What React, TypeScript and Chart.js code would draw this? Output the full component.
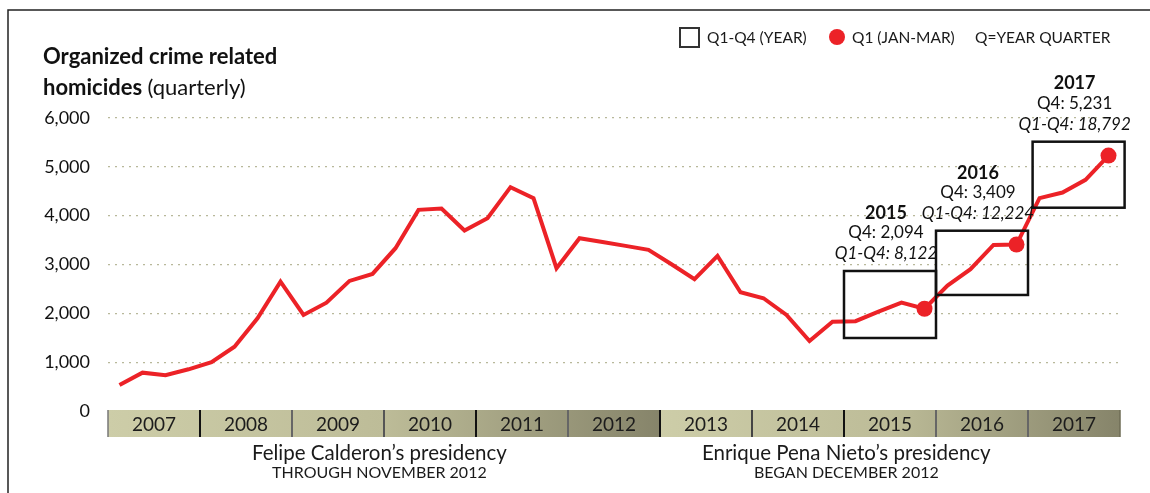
import React, { useEffect, useRef } from "react";
import { Chart, registerables } from "chart.js";

Chart.register(...registerables);

const years = ["2007", "2008", "2009", "2010", "2011", "2012", "2013", "2014", "2015", "2016", "2017"];
const quarterNames = ["Q1", "Q2", "Q3", "Q4"];
const homicides = [
  533, 785, 731, 854,
  998, 1318, 1900, 2650,
  1967, 2219, 2664, 2807,
  3334, 4119, 4146, 3695,
  3949, 4584, 4359, 2924,
  3539, 3459, 3381, 3299,
  3006, 2698, 3176, 2432,
  2309, 1967, 1434, 1830,
  1840, 2035, 2220, 2094,
  2568, 2903, 3400, 3409,
  4359, 4473, 4734, 5231,
];
const markerIndices = [35, 39, 43];
const yTicks = [0, 1000, 2000, 3000, 4000, 5000, 6000];

const boxYears = ["2015", "2016", "2017"];
const boxQ4Labels = ["Q4: 2,094", "Q4: 3,409", "Q4: 5,231"];
const boxTotalLabels = ["Q1-Q4: 8,122", "Q1-Q4: 12,224", "Q1-Q4: 18,792"];
const boxStartQuarter = [32, 36, 40.2];
const boxLow = [1495, 2376, 4163];
const boxHigh = [2867, 3692, 5515];

const dividerColors = ["#777", "#111", "#666", "#555", "#111", "#666", "#111", "#444", "#111", "#666", "#666"];

const RED = "#ec2227";
const FONT = "Lato, 'Open Sans', sans-serif";

const labels = years.flatMap((y) => quarterNames.map((q) => `${q} ${y}`));

const decorPlugin = {
  id: "decor",
  beforeDatasetsDraw(chart: any) {
    const { ctx, chartArea, scales } = chart;
    const x = scales.x;
    const w = x.getPixelForValue(1) - x.getPixelForValue(0);
    const qLeft = (q: number) => x.getPixelForValue(0) - w / 2 + q * w;
    const bandTop = chartArea.bottom - 1;
    const bandH = 27;
    ctx.save();
    const segs = [
      [0, 24],
      [24, 44],
    ];
    segs.forEach(([a, b]) => {
      const x0 = qLeft(a);
      const x1 = qLeft(b);
      const g = ctx.createLinearGradient(x0, 0, x1, 0);
      g.addColorStop(0, "#cdcda8");
      g.addColorStop(0.5, "#bdbc98");
      g.addColorStop(1, "#86846a");
      ctx.fillStyle = g;
      ctx.fillRect(x0, bandTop, x1 - x0, bandH);
    });
    years.forEach((yr, i) => {
      const x0 = qLeft(i * 4);
      ctx.strokeStyle = dividerColors[i];
      ctx.lineWidth = i === 0 ? 1.5 : 2;
      ctx.beginPath();
      ctx.moveTo(x0, bandTop);
      ctx.lineTo(x0, bandTop + bandH);
      ctx.stroke();
      const cx = x0 + 2 * w;
      ctx.fillStyle = "#1c1c1c";
      ctx.font = `19px ${FONT}`;
      ctx.textAlign = "center";
      ctx.textBaseline = "middle";
      ctx.fillText(yr, cx, bandTop + bandH / 2 + 1);
    });
    ctx.strokeStyle = "#6e6c56";
    ctx.lineWidth = 1.5;
    ctx.beginPath();
    ctx.moveTo(qLeft(44), bandTop);
    ctx.lineTo(qLeft(44), bandTop + bandH);
    ctx.stroke();
    ctx.restore();
  },
  afterDatasetsDraw(chart: any) {
    const { ctx, scales } = chart;
    const x = scales.x;
    const y = scales.y;
    const w = x.getPixelForValue(1) - x.getPixelForValue(0);
    const qLeft = (q: number) => x.getPixelForValue(0) - w / 2 + q * w;
    ctx.save();
    boxYears.forEach((yr, i) => {
      const x0 = qLeft(boxStartQuarter[i]);
      const x1 = qLeft(boxStartQuarter[i] + 4);
      const top = y.getPixelForValue(boxHigh[i]);
      const bot = y.getPixelForValue(boxLow[i]);
      ctx.strokeStyle = "#111";
      ctx.lineWidth = 2.5;
      ctx.strokeRect(x0, top, x1 - x0, bot - top);
      const cx = (x0 + x1) / 2 - 4;
      ctx.textAlign = "center";
      ctx.textBaseline = "middle";
      ctx.fillStyle = "#111";
      ctx.font = `bold 18px ${FONT}`;
      ctx.fillText(yr, cx, top - 58);
      ctx.font = `17px ${FONT}`;
      ctx.fillText(boxQ4Labels[i], cx, top - 38);
      ctx.font = `italic 17px ${FONT}`;
      ctx.fillText(boxTotalLabels[i], cx, top - 17);
    });
    ctx.restore();
  },
  afterDraw(chart: any) {
    const { ctx, chartArea, scales } = chart;
    const x = scales.x;
    const w = x.getPixelForValue(1) - x.getPixelForValue(0);
    const qLeft = (q: number) => x.getPixelForValue(0) - w / 2 + q * w;
    ctx.save();
    ctx.strokeStyle = "#222";
    ctx.lineWidth = 1.5;
    ctx.beginPath();
    ctx.moveTo(8, chart.height);
    ctx.lineTo(8, 10);
    ctx.lineTo(chart.width, 10);
    ctx.stroke();
    ctx.fillStyle = "#111";
    ctx.textAlign = "left";
    ctx.textBaseline = "middle";
    ctx.font = `bold 22px ${FONT}`;
    ctx.fillText("Organized crime related", 43, 57);
    ctx.fillText("homicides", 43, 88);
    const hw = ctx.measureText("homicides ").width;
    ctx.font = `22px ${FONT}`;
    ctx.fillText("(quarterly)", 43 + hw, 88);
    ctx.strokeStyle = "#333";
    ctx.lineWidth = 2;
    ctx.strokeRect(680, 28, 19, 19);
    ctx.font = `15.5px ${FONT}`;
    ctx.fillStyle = "#1a1a1a";
    ctx.fillText("Q1-Q4 (YEAR)", 707, 38);
    ctx.fillStyle = RED;
    ctx.beginPath();
    ctx.arc(837, 37, 8, 0, Math.PI * 2);
    ctx.fill();
    ctx.fillStyle = "#1a1a1a";
    ctx.fillText("Q1 (JAN-MAR)", 852, 38);
    ctx.fillText("Q=YEAR QUARTER", 975, 38);
    const bandBottom = chartArea.bottom + 26;
    ctx.textAlign = "center";
    const cx1 = qLeft(11.8);
    const cx2 = qLeft(32.1);
    ctx.font = `20.5px ${FONT}`;
    ctx.fillText("Felipe Calderon’s presidency", cx1, bandBottom + 16);
    ctx.fillText("Enrique Pena Nieto’s presidency", cx2, bandBottom + 16);
    ctx.font = `16px ${FONT}`;
    ctx.fillText("THROUGH NOVEMBER 2012", cx1, bandBottom + 36);
    ctx.fillText("BEGAN DECEMBER 2012", cx2, bandBottom + 36);
    ctx.restore();
  },
};

export default function App() {
  const ref = useRef<HTMLCanvasElement | null>(null);
  useEffect(() => {
    if (!ref.current) return;
    const chart = new Chart(ref.current, {
      type: "line",
      data: {
        labels,
        datasets: [
          {
            data: homicides,
            borderColor: RED,
            backgroundColor: RED,
            borderWidth: 4,
            tension: 0,
            pointRadius: (c: any) => (markerIndices.includes(c.dataIndex) ? 8 : 0),
            pointHoverRadius: (c: any) => (markerIndices.includes(c.dataIndex) ? 8 : 0),
            pointBorderWidth: 0,
            pointBackgroundColor: RED,
          },
        ],
      },
      options: {
        animation: false,
        responsive: true,
        maintainAspectRatio: false,
        layout: { padding: { left: 0, top: 118, right: 30, bottom: 82 } },
        plugins: { legend: { display: false }, tooltip: { enabled: false } },
        scales: {
          x: { type: "category", display: false, offset: true },
          y: {
            min: 0,
            max: 6000,
            afterFit: (s: any) => {
              s.width = 108;
            },
            afterBuildTicks: (s: any) => {
              s.ticks = yTicks.map((v) => ({ value: v }));
            },
            border: { display: false, dash: [2, 5] },
            grid: {
              drawTicks: false,
              color: (c: any) => (c.tick && c.tick.value === 0 ? "rgba(0,0,0,0)" : "#b8b89a"),
              lineWidth: 1.3,
            },
            ticks: {
              padding: 18,
              color: "#111",
              font: { family: FONT, size: 18 },
              callback: (v: any) => Number(v).toLocaleString("en-US"),
            },
          } as any,
        },
      },
      plugins: [decorPlugin],
    } as any);
    return () => chart.destroy();
  }, []);
  return (
    <div style={{ position: "fixed", left: 0, top: 0, width: 1150, height: 493, background: "#fff" }}>
      <canvas ref={ref} />
    </div>
  );
}
